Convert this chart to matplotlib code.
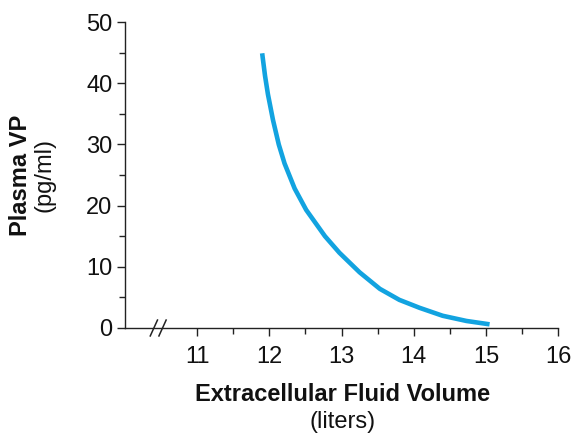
import matplotlib.pyplot as plt
from matplotlib.ticker import MultipleLocator, FixedLocator

# curve (liters, pg/ml)
ecf_volume = [11.90, 11.94, 11.98, 12.05, 12.13, 12.21, 12.35, 12.51, 12.77,
              12.97, 13.25, 13.53, 13.80, 14.08, 14.40, 14.73, 15.05]
plasma_vp = [44.9, 41.2, 38.2, 34.0, 30.0, 26.9, 22.8, 19.3, 15.0,
             12.3, 9.1, 6.4, 4.6, 3.3, 2.0, 1.15, 0.6]

x_ticks = [11, 12, 13, 14, 15, 16]
x_minor = [11.5, 12.5, 13.5, 14.5, 15.5]
y_ticks = [0, 10, 20, 30, 40, 50]

plt.rcParams['font.family'] = ['Liberation Sans', 'DejaVu Sans']

fig = plt.figure(figsize=(5.76, 4.33), dpi=100)
ax = fig.add_axes([0.217, 0.2425, 0.752, 0.7065])

ax.plot(ecf_volume, plasma_vp, color='#12a3e0', linewidth=3.3,
        solid_capstyle='butt', solid_joinstyle='round')

ax.set_xlim(10, 16)
ax.set_ylim(0, 50)
ax.xaxis.set_major_locator(FixedLocator(x_ticks))
ax.xaxis.set_minor_locator(FixedLocator(x_minor))
ax.set_yticks(y_ticks)
ax.yaxis.set_minor_locator(MultipleLocator(5))

for s in ['top', 'right']:
    ax.spines[s].set_visible(False)
for s in ['left', 'bottom']:
    ax.spines[s].set_linewidth(1.0)
    ax.spines[s].set_color('#222222')

ax.tick_params(which='major', direction='out', length=6, width=1.0,
               labelsize=17, colors='#222222', labelcolor='#111111', pad=7)
ax.tick_params(which='minor', direction='out', length=4, width=1.0,
               colors='#222222')
ax.tick_params(axis='y', which='major', pad=3)

# axis break marks
for x0 in [10.40, 10.52]:
    ax.plot([x0 - 0.05, x0 + 0.05], [-1.3, 1.3], color='#222222',
            linewidth=1.1, clip_on=False)

fig.text(0.036, 0.595, 'Plasma VP', rotation=90, ha='center', va='center',
         fontsize=17, fontweight='bold', color='#111111')
fig.text(0.078, 0.595, '(pg/ml)', rotation=90, ha='center', va='center',
         fontsize=17, color='#111111')
fig.text(0.594, 0.088, 'Extracellular Fluid Volume', ha='center', va='center',
         fontsize=17, fontweight='bold', color='#111111')
fig.text(0.594, 0.026, '(liters)', ha='center', va='center',
         fontsize=17, color='#111111')

fig.savefig('out.png', dpi=100)
